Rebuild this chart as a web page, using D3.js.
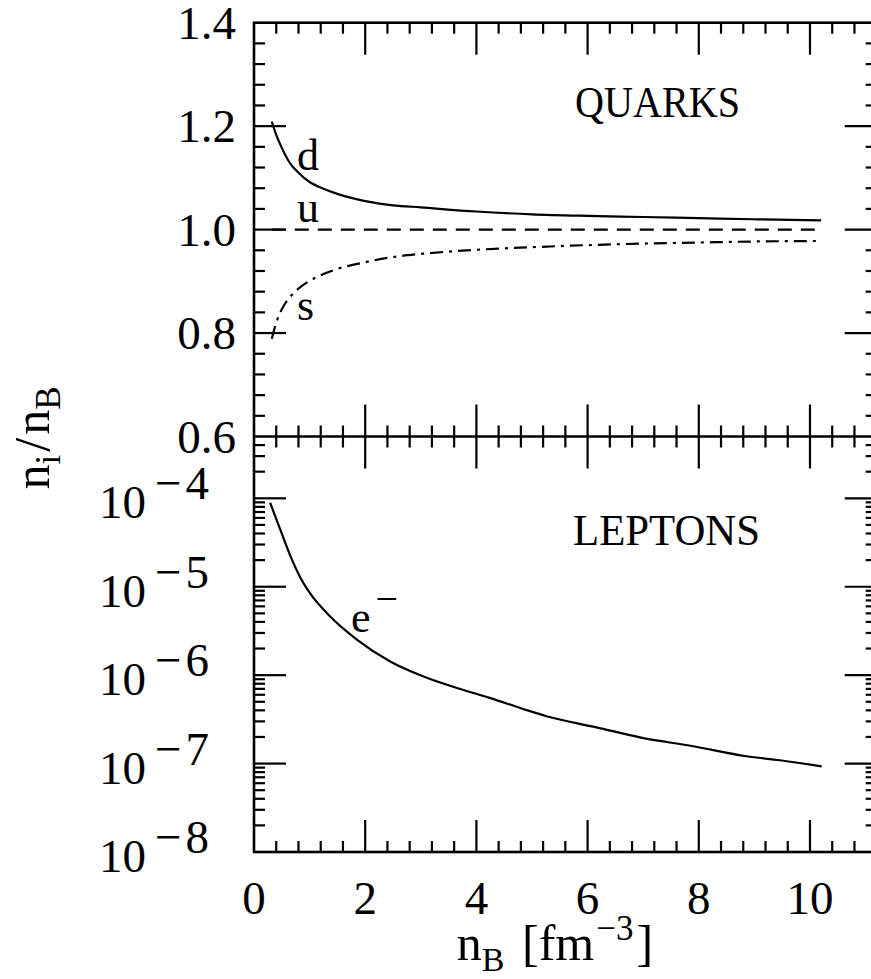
<!DOCTYPE html>
<html>
<head>
<meta charset="utf-8">
<script src="https://cdn.jsdelivr.net/npm/d3@7"></script>
<style>
  html, body { margin: 0; padding: 0; background: #fff; }
  svg { display: block; }
</style>
</head>
<body>
<script>
// Baryon density grid (fm^-3) for the quark fractions
const nBQuark = [0.32, 0.4, 0.5, 0.65, 0.8, 1.0, 1.25, 1.5, 2.0, 2.5, 3.0, 4.0, 5.0, 6.0, 7.0, 8.0, 9.0, 10.2];
// n_d / n_B
const dFrac = [1.2086, 1.183, 1.158, 1.128, 1.110, 1.092, 1.079, 1.069, 1.055, 1.047, 1.043, 1.035, 1.0295, 1.0265, 1.0244, 1.022, 1.020, 1.018];
// n_u / n_B
const uFrac = [1.0, 1.0, 1.0, 1.0, 1.0, 1.0, 1.0, 1.0, 1.0, 1.0, 1.0, 1.0, 1.0, 1.0, 1.0, 1.0, 1.0, 1.0];
// n_s / n_B
const sFrac = [0.789, 0.820, 0.846, 0.870, 0.886, 0.901, 0.914, 0.924, 0.937, 0.947, 0.953, 0.961, 0.966, 0.970, 0.973, 0.975, 0.977, 0.978];

// Baryon density grid for the electron fraction
const nBLepton = [0.29, 0.47, 0.65, 0.83, 1.01, 1.37, 1.85, 2.45, 3.05, 3.65, 4.24, 4.84, 5.26, 6.16, 6.94, 7.90, 8.86, 9.46, 10.21];
// n_e / n_B
const eFrac = [8.91e-5, 4.47e-5, 2.26e-5, 1.28e-5, 8.39e-6, 4.61e-6, 2.53e-6, 1.43e-6, 9.66e-7, 7.16e-7, 5.53e-7, 4.15e-7, 3.43e-7, 2.57e-7, 1.98e-7, 1.57e-7, 1.21e-7, 1.09e-7, 9.29e-8];

// Axis tick values
const xMajor = [0, 2, 4, 6, 8, 10];
const xLabels = ["0", "2", "4", "6", "8", "10"];
const yTopMajor = [0.6, 0.8, 1.0, 1.2, 1.4];
const yTopLabels = ["0.6", "0.8", "1.0", "1.2", "1.4"];
const yBotMajor = [1e-8, 1e-7, 1e-6, 1e-5, 1e-4];
const yBotExponents = ["8", "7", "6", "5", "4"];

const W = 871, H = 979;
const L = 254, R = 876.7, T = 22.7, M = 436.5, B = 852;

const x = d3.scaleLinear().domain([0, 11.2]).range([L, R]);
const yTop = d3.scaleLinear().domain([0.6, 1.4]).range([M, T]);
const yBot = d3.scaleLog().domain([1e-8, 5e-4]).range([B, M]);

const svg = d3.select("body").append("svg")
  .attr("width", W).attr("height", H)
  .attr("viewBox", `0 0 ${W} ${H}`);

const ink = "#000";
const serif = "'Liberation Serif', 'Times New Roman', serif";

// ---- ticks ----
const MAJ = 32, MIN = 11;
const tickG = svg.append("g").attr("stroke", ink).attr("stroke-width", 2.2);

const xMinor = d3.range(1, 28).map(i => +(i * 0.4).toFixed(2)).filter(v => Math.abs(v / 2 - Math.round(v / 2)) > 1e-6);

function xTicks(yPos, dir) {
  tickG.append("g").selectAll("line").data(xMajor.filter(v => v > 0)).join("line")
    .attr("x1", d => x(d)).attr("x2", d => x(d))
    .attr("y1", yPos).attr("y2", yPos + dir * MAJ);
  tickG.append("g").selectAll("line").data(xMinor).join("line")
    .attr("x1", d => x(d)).attr("x2", d => x(d))
    .attr("y1", yPos).attr("y2", yPos + dir * MIN);
}
xTicks(T, 1);
xTicks(M, -1);
xTicks(M, 1);
xTicks(B, -1);

function yTicks(scale, major, minor) {
  [[L, 1], [R, -1]].forEach(([xPos, dir]) => {
    tickG.append("g").selectAll("line").data(major).join("line")
      .attr("x1", xPos).attr("x2", xPos + dir * MAJ)
      .attr("y1", d => scale(d)).attr("y2", d => scale(d));
    tickG.append("g").selectAll("line").data(minor).join("line")
      .attr("x1", xPos).attr("x2", xPos + dir * MIN)
      .attr("y1", d => scale(d)).attr("y2", d => scale(d));
  });
}
const yTopMinor = d3.range(0, 21).map(i => +(0.6 + i * 0.04).toFixed(2)).filter(v => Math.abs(v * 5 - Math.round(v * 5)) > 1e-6);
yTicks(yTop, yTopMajor.filter(v => v > 0.6 && v < 1.4), yTopMinor);

const yBotMinor = [];
[-8, -7, -6, -5, -4].forEach(k => {
  d3.range(2, 10).forEach(m => {
    const v = m * Math.pow(10, k);
    if (v < 5e-4 * 0.999) yBotMinor.push(v);
  });
});
yTicks(yBot, yBotMajor.filter(v => v > 1e-8), yBotMinor);

// ---- frame ----
const frame = svg.append("g").attr("stroke", ink).attr("stroke-width", 2.6).attr("fill", "none");
frame.append("rect").attr("x", L).attr("y", T).attr("width", R - L).attr("height", B - T);
frame.append("line").attr("x1", L).attr("x2", R).attr("y1", M).attr("y2", M);

// ---- curves ----
const quarkLine = vals => d3.line()
  .x((d, i) => x(nBQuark[i]))
  .y(d => yTop(d))
  .curve(d3.curveMonotoneX)(vals);

const curves = svg.append("g").attr("fill", "none").attr("stroke", ink).attr("stroke-width", 2.2);
curves.append("path").attr("d", quarkLine(dFrac));
curves.append("path").attr("d", quarkLine(uFrac)).attr("stroke-dasharray", "14,9");
curves.append("path").attr("d", quarkLine(sFrac)).attr("stroke-dasharray", "13,6,3,6");

const eLine = d3.line()
  .x((d, i) => x(nBLepton[i]))
  .y(d => yBot(d))
  .curve(d3.curveMonotoneX);
curves.append("path").attr("d", eLine(eFrac));

// ---- tick labels ----
const labels = svg.append("g").attr("fill", ink).attr("font-family", serif).attr("font-size", 47);

labels.append("g").selectAll("text").data(xMajor).join("text")
  .attr("x", d => x(d)).attr("y", 914)
  .attr("text-anchor", "middle")
  .text((d, i) => xLabels[i]);

labels.append("g").selectAll("text").data(yTopMajor).join("text")
  .attr("x", 236).attr("y", d => yTop(d) + 16)
  .attr("text-anchor", "end")
  .text((d, i) => yTopLabels[i]);

const logLab = labels.append("g").selectAll("text").data(yBotMajor).join("text")
  .attr("x", 209).attr("y", d => yBot(d) + 20)
  .attr("text-anchor", "end");
logLab.append("tspan").text("10");
logLab.append("tspan").attr("dy", -19).attr("dx", 9).text("\u2212");
logLab.append("tspan").attr("dx", 4).text((d, i) => yBotExponents[i]);

// ---- panel titles and curve labels ----
svg.append("text").attr("x", 575).attr("y", 117)
  .attr("font-family", serif).attr("font-size", 44)
  .attr("textLength", 165).attr("lengthAdjust", "spacingAndGlyphs")
  .text("QUARKS");
svg.append("text").attr("x", 573).attr("y", 545)
  .attr("font-family", serif).attr("font-size", 44)
  .attr("textLength", 187).attr("lengthAdjust", "spacingAndGlyphs")
  .text("LEPTONS");

const cl = svg.append("g").attr("font-family", serif).attr("font-size", 44).attr("fill", ink);
cl.append("text").attr("x", 297).attr("y", 170).text("d");
cl.append("text").attr("x", 297).attr("y", 222).text("u");
cl.append("text").attr("x", 297).attr("y", 320).text("s");
const eLab = cl.append("text").attr("x", 351).attr("y", 632);
eLab.append("tspan").text("e");
eLab.append("tspan").attr("dy", -20).attr("dx", 5).attr("font-size", 40).text("\u2212");

// ---- axis titles ----
const xt = svg.append("text").attr("x", 555).attr("y", 960)
  .attr("text-anchor", "middle").attr("font-family", serif).attr("font-size", 50);
xt.append("tspan").text("n");
xt.append("tspan").attr("dy", 11).attr("font-size", 34).text("B");
xt.append("tspan").attr("dy", -11).attr("dx", 5).text(" [fm");
xt.append("tspan").attr("dy", -20).attr("dx", 2).attr("font-size", 35).text("\u22123");
xt.append("tspan").attr("dy", 20).attr("dx", 3).text("]");

const yt = svg.append("text").attr("transform", "translate(49,438) rotate(-90)")
  .attr("text-anchor", "middle").attr("font-family", serif).attr("font-size", 50);
yt.append("tspan").text("n");
yt.append("tspan").attr("dy", 11).attr("font-size", 35).text("i");
yt.append("tspan").attr("dy", -11).attr("dx", 3).text("/");
yt.append("tspan").attr("dx", 3).text("n");
yt.append("tspan").attr("dy", 11).attr("font-size", 35).text("B");
</script>
</body>
</html>
